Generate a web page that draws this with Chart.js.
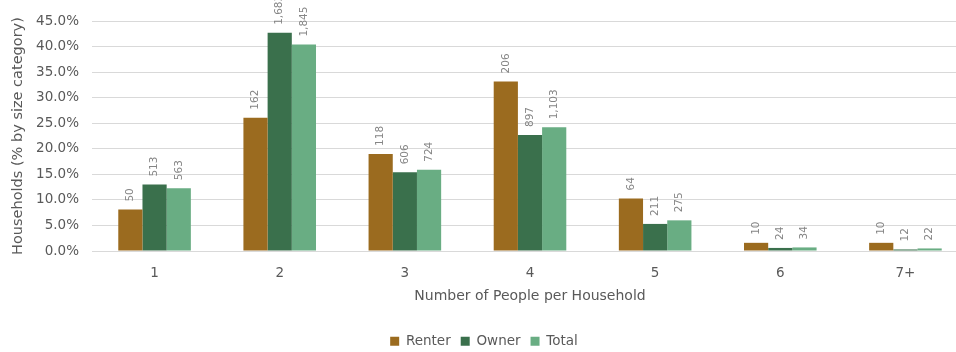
<!DOCTYPE html>
<html>
<head>
<meta charset="utf-8">
<script src="https://cdn.jsdelivr.net/npm/chart.js@4"></script>
<style>
  html, body { margin: 0; padding: 0; background: #fff; overflow: hidden; }
  #wrap { width: 980px; height: 358px; }
</style>
</head>
<body>
<div id="wrap"><canvas id="householdChart" width="980" height="358"></canvas></div>
<script>
// Household size by tenure
const sizeLabels = ['1', '2', '3', '4', '5', '6', '7+'];

// share of households in each size category (%)
const renterPct = [8.1, 26.1, 19.0, 33.2, 10.3, 1.6, 1.6];
const ownerPct  = [13.0, 42.7, 15.4, 22.7, 5.3, 0.6, 0.3];
const totalPct  = [12.3, 40.4, 15.9, 24.2, 6.0, 0.7, 0.5];

// household counts shown above each bar
const renterCount = [50, 162, 118, 206, 64, 10, 10];
const ownerCount  = [513, 1683, 606, 897, 211, 24, 12];
const totalCount  = [563, 1845, 724, 1103, 275, 34, 22];

const yTicks = [0, 5, 10, 15, 20, 25, 30, 35, 40, 45];

const textColor = '#595959';
const fontFamily = '"DejaVu Sans", sans-serif';

// rotated count labels sitting on top of the bars
const countLabels = {
    id: 'countLabels',
    afterDatasetsDraw(chart) {
        const ctx = chart.ctx;
        ctx.save();
        ctx.font = '10.5px ' + fontFamily;
        ctx.fillStyle = '#858585';
        chart.data.datasets.forEach((ds, i) => {
            const meta = chart.getDatasetMeta(i);
            meta.data.forEach((bar, j) => {
                ctx.save();
                ctx.translate(bar.x, bar.y - 8);
                ctx.rotate(-Math.PI / 2);
                ctx.textAlign = 'left';
                ctx.textBaseline = 'middle';
                ctx.fillText(ds.counts[j].toLocaleString('en-US'), 0, 0);
                ctx.restore();
            });
        });
        ctx.restore();
    }
};

const ctx = document.getElementById('householdChart').getContext('2d');

new Chart(ctx, {
    type: 'bar',
    data: {
        labels: sizeLabels,
        datasets: [
            { label: 'Renter', data: renterPct, counts: renterCount, backgroundColor: '#9b6b1f' },
            { label: 'Owner', data: ownerPct, counts: ownerCount, backgroundColor: '#3a704c' },
            { label: 'Total', data: totalPct, counts: totalCount, backgroundColor: '#69ad83' }
        ]
    },
    options: {
        responsive: false,
        animation: false,
        layout: { padding: { top: 18, right: 12, bottom: 0, left: 0 } },
        datasets: {
            bar: { categoryPercentage: 0.58, barPercentage: 1.0, borderWidth: 0 }
        },
        plugins: {
            legend: {
                position: 'bottom',
                labels: {
                    boxWidth: 9,
                    boxHeight: 9,
                    padding: 10,
                    color: textColor,
                    font: { family: fontFamily, size: 13.5 }
                }
            },
            tooltip: { enabled: false }
        },
        scales: {
            x: {
                grid: { display: false, drawTicks: false },
                border: { display: false },
                ticks: {
                    padding: 14,
                    color: textColor,
                    font: { family: fontFamily, size: 13.5 }
                },
                title: {
                    display: true,
                    text: 'Number of People per Household',
                    color: textColor,
                    font: { family: fontFamily, size: 14 },
                    padding: { top: 0, bottom: 20 }
                },
                afterFit(scale) { scale.height = 73.5; }
            },
            y: {
                min: 0,
                max: 45,
                afterBuildTicks(scale) {
                    scale.ticks = yTicks.map(v => ({ value: v }));
                },
                grid: { color: '#d9d9d9', lineWidth: 1, drawTicks: false },
                border: { display: false },
                ticks: {
                    padding: 13,
                    color: textColor,
                    font: { family: fontFamily, size: 13.5 },
                    callback: v => v.toFixed(1) + '%'
                },
                title: {
                    display: true,
                    text: 'Households (% by size category)',
                    color: textColor,
                    font: { family: fontFamily, size: 14.5 },
                    padding: { top: 10, bottom: 0 }
                },
                afterFit(scale) { scale.width = 92; }
            }
        }
    },
    plugins: [countLabels]
});
</script>
</body>
</html>
